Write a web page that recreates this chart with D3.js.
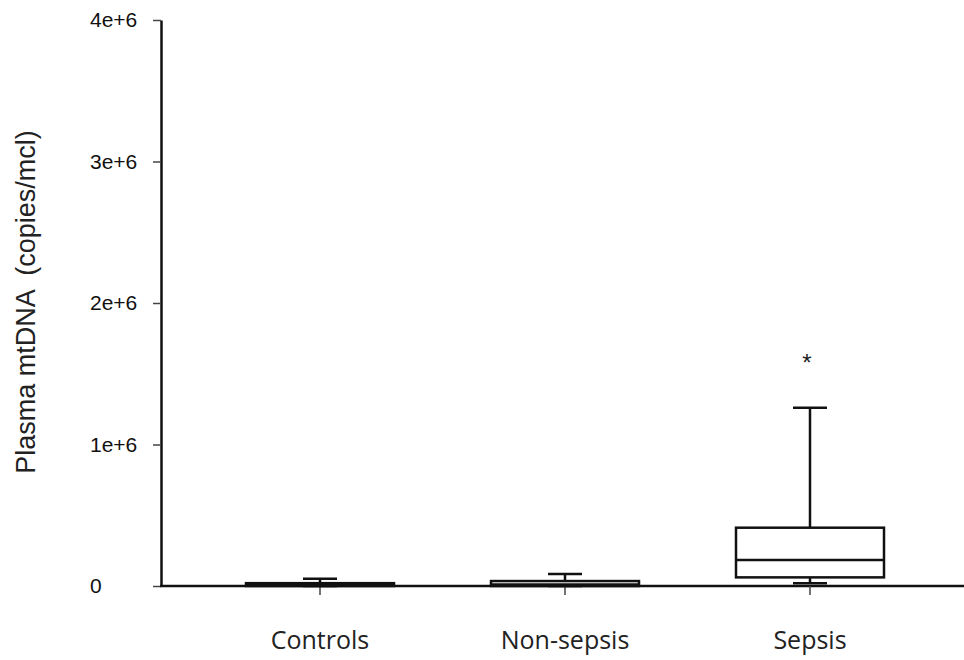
<!DOCTYPE html>
<html>
<head>
<meta charset="utf-8">
<script src="https://cdn.jsdelivr.net/npm/d3@7"></script>
<style>
  body { margin: 0; background: #fff; }
</style>
</head>
<body>
<div id="chart"></div>
<script>
// data (copies/mcl)
var groups = ["Controls", "Non-sepsis", "Sepsis"];
var lowerWhisker = [0, 0, 20000];
var q1 = [0, 0, 61000];
var median = [5000, 10000, 184000];
var q3 = [20000, 35000, 412000];
var upperWhisker = [52000, 85000, 1260000];
var outliers = [[], [], [1620000]];
var yTicks = [0, 1e6, 2e6, 3e6, 4e6];
var yTickLabels = ["0", "1e+6", "2e+6", "3e+6", "4e+6"];

const width = 964, height = 660;

const svg = d3.select("#chart").append("svg")
    .attr("width", width)
    .attr("height", height);

var y = d3.scaleLinear()
    .domain([0, 4e6])
    .range([586, 20]);

var x = d3.scaleBand()
    .domain(groups)
    .range([197.5, 932.5]);

var boxW = 148, capW = 34;

var rows = groups.map(function(g, i) {
    return {g: g, lo: lowerWhisker[i], q1: q1[i], med: median[i], q3: q3[i], hi: upperWhisker[i], out: outliers[i]};
});

// y axis
var yAxis = svg.append("g")
    .attr("transform", "translate(161,0)")
    .call(d3.axisLeft(y).tickValues(yTicks).tickFormat(function(d, i){ return yTickLabels[i]; }).tickSize(8).tickSizeOuter(0));
yAxis.select(".domain").attr("stroke", "#111").attr("stroke-width", 2.5);
yAxis.selectAll(".tick line").attr("stroke", "#444").attr("stroke-width", 1.5);
yAxis.selectAll(".tick text")
    .attr("x", -71)
    .attr("text-anchor", "start")
    .style("font-family", "Liberation Sans, Arial, sans-serif")
    .style("font-size", "21px")
    .style("fill", "#111");

// x axis
var xAxis = svg.append("g")
    .attr("transform", "translate(0,586)")
    .call(d3.axisBottom(x).tickSize(9).tickSizeOuter(0));
xAxis.select(".domain").attr("d", "M160,0H964").attr("stroke", "#111").attr("stroke-width", 2.5);
xAxis.selectAll(".tick line").attr("stroke", "#444").attr("stroke-width", 1.5);
xAxis.selectAll(".tick text")
    .attr("y", 63)
    .attr("dy", 0)
    .style("font-family", "Open Sans, Noto Sans, sans-serif")
    .style("font-size", "25px")
    .style("fill", "#222");

// y title
svg.append("text")
    .attr("transform", "translate(35,302) rotate(-90)")
    .attr("text-anchor", "middle")
    .style("white-space", "pre")
    .style("font-family", "Liberation Sans, Arial, sans-serif")
    .style("font-size", "27px")
    .style("fill", "#222")
    .text("Plasma mtDNA  (copies/mcl)");

// boxes
var boxes = svg.append("g").selectAll("g")
    .data(rows)
    .enter().append("g")
    .attr("transform", function(d){ return "translate(" + (x(d.g) + x.bandwidth()/2) + ",0)"; });

boxes.append("line")
    .attr("x1", 0).attr("x2", 0)
    .attr("y1", function(d){ return y(d.q3); })
    .attr("y2", function(d){ return y(d.hi); })
    .attr("stroke", "#111").attr("stroke-width", 2.5);

boxes.append("line")
    .attr("x1", -capW/2).attr("x2", capW/2)
    .attr("y1", function(d){ return y(d.hi); })
    .attr("y2", function(d){ return y(d.hi); })
    .attr("stroke", "#111").attr("stroke-width", 2.5);

boxes.append("line")
    .attr("x1", 0).attr("x2", 0)
    .attr("y1", function(d){ return y(d.q1); })
    .attr("y2", function(d){ return y(d.lo); })
    .attr("stroke", "#111").attr("stroke-width", 2.5);

boxes.append("line")
    .attr("x1", -capW/2).attr("x2", capW/2)
    .attr("y1", function(d){ return y(d.lo); })
    .attr("y2", function(d){ return y(d.lo); })
    .attr("stroke", "#111").attr("stroke-width", 2.5);

boxes.append("rect")
    .attr("x", -boxW/2)
    .attr("width", boxW)
    .attr("y", function(d){ return y(d.q3); })
    .attr("height", function(d){ return y(d.q1) - y(d.q3); })
    .attr("fill", "#fff")
    .attr("stroke", "#111").attr("stroke-width", 2.5);

boxes.append("line")
    .attr("x1", -boxW/2).attr("x2", boxW/2)
    .attr("y1", function(d){ return y(d.med); })
    .attr("y2", function(d){ return y(d.med); })
    .attr("stroke", "#111").attr("stroke-width", 2.5);

boxes.selectAll(".out")
    .data(function(d){ return d.out; })
    .enter().append("text")
    .attr("class", "out")
    .attr("x", -3)
    .attr("y", function(d){ return y(d) + 14; })
    .attr("text-anchor", "middle")
    .style("font-family", "Liberation Sans, Arial, sans-serif")
    .style("font-size", "24px")
    .style("fill", "#222")
    .text("*");
</script>
</body>
</html>
